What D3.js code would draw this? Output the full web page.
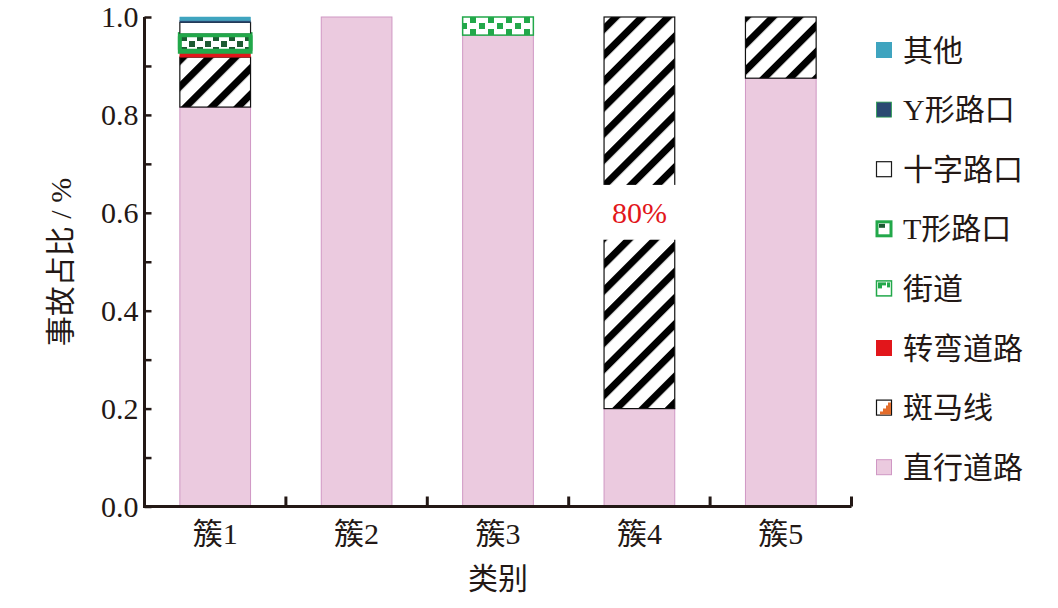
<!DOCTYPE html>
<html><head><meta charset="utf-8">
<script src="https://cdn.jsdelivr.net/npm/d3@7"></script>
<style>
html,body{margin:0;padding:0;background:#fff;}
text{font-family:"Liberation Serif","Noto Sans CJK SC",serif;fill:#231815;}
</style></head>
<body><svg id="c" width="1058" height="608"></svg>
<script>
const categories = ["簇1","簇2","簇3","簇4","簇5"];
const seriesNames = ["直行道路","斑马线","转弯道路","街道","T形路口","十字路口","Y形路口","其他"];
const s_zhixing  = [0.816, 1.000, 0.963, 0.200, 0.875];
const s_banmaxian= [0.102, 0.000, 0.000, 0.800, 0.125];
const s_zhuanwan = [0.011, 0.000, 0.000, 0.000, 0.000];
const s_jiedao   = [0.000, 0.000, 0.037, 0.000, 0.000];
const s_Txing    = [0.036, 0.000, 0.000, 0.000, 0.000];
const s_shizi    = [0.024, 0.000, 0.000, 0.000, 0.000];
const s_Yxing    = [0.004, 0.000, 0.000, 0.000, 0.000];
const s_qita     = [0.007, 0.000, 0.000, 0.000, 0.000];
const yTicks = [0.0, 0.2, 0.4, 0.6, 0.8, 1.0];
const yMinorTicks = [0.1, 0.3, 0.5, 0.7, 0.9];
const breakCategory = "簇4";
const breakRange = [0.545, 0.657];
const breakLabel = "80%";
const legendOrder = ["其他","Y形路口","十字路口","T形路口","街道","转弯道路","斑马线","直行道路"];
const xTitle = "类别";
const yTitle = "事故占比 / %";

const seriesValues = [s_zhixing,s_banmaxian,s_zhuanwan,s_jiedao,s_Txing,s_shizi,s_Yxing,s_qita];
const rows = categories.map((c,i)=>{const o={cat:c}; seriesNames.forEach((s,j)=>o[s]=seriesValues[j][i]); return o;});

const styles = {
  "直行道路":{fill:"#ebcadf",stroke:"#cf97c4",sw:1},
  "斑马线":{fill:"url(#zebra)",stroke:"#111",sw:1.2},
  "转弯道路":{fill:"#e2161b",stroke:"#e2161b",sw:0.5},
  "街道":{fill:"url(#street)",stroke:"#22a84a",sw:1.5},
  "T形路口":{fill:"url(#tpat)",stroke:"#22a84a",sw:4},
  "十字路口":{fill:"#fff",stroke:"#1a1a1a",sw:1.2},
  "Y形路口":{fill:"#284a72",stroke:"#284a72",sw:0.5},
  "其他":{fill:"#3fa4bf",stroke:"#3fa4bf",sw:0.5}
};

const svg = d3.select("#c");
const defs = svg.append("defs");
// zebra
const pz = defs.append("pattern").attr("id","zebra").attr("patternUnits","userSpaceOnUse")
  .attr("width",18.5).attr("height",18.5).attr("patternTransform","rotate(45)");
pz.append("rect").attr("width",18.5).attr("height",18.5).attr("fill","#fff");
pz.append("rect").attr("width",7).attr("height",18.5).attr("fill","#000");
// street
const ps = defs.append("pattern").attr("id","street").attr("patternUnits","userSpaceOnUse")
  .attr("width",18).attr("height",12).attr("x",2).attr("y",5);
ps.append("rect").attr("width",18).attr("height",12).attr("fill","#fff");
ps.append("rect").attr("x",0).attr("y",0).attr("width",6).attr("height",6).attr("fill","#22a84a");
ps.append("rect").attr("x",9).attr("y",6).attr("width",6).attr("height",6).attr("fill","#22a84a");
// T pattern
const pt = defs.append("pattern").attr("id","tpat").attr("patternUnits","userSpaceOnUse")
  .attr("width",16).attr("height",12).attr("x",181).attr("y",35);
pt.append("rect").attr("width",16).attr("height",12).attr("fill","#fff");
pt.append("rect").attr("x",0).attr("y",0).attr("width",6).attr("height",6).attr("fill","#1c5a32");
pt.append("rect").attr("x",8).attr("y",6).attr("width",6).attr("height",6).attr("fill","#1c5a32");

const x = d3.scaleBand().domain(categories).range([144.5,851.5]).paddingInner(0.5).paddingOuter(0.25);
const y = d3.scaleLinear().domain([0,1]).range([506.5,17]);

const stack = d3.stack().keys(seriesNames)(rows);
const g = svg.append("g");
stack.forEach(layer=>{
  const st = styles[layer.key];
  g.selectAll(null).data(layer.filter(d=>d[1]-d[0]>0)).join("rect")
    .attr("x",d=>x(d.data.cat)).attr("width",x.bandwidth())
    .attr("y",d=>y(d[1])).attr("height",d=>y(d[0])-y(d[1]))
    .attr("fill",st.fill).attr("stroke",st.stroke).attr("stroke-width",st.sw);
});
// re-draw T band on top so its thick border shows
const tLayer = stack.find(l=>l.key==="T形路口");
g.selectAll(null).data(tLayer.filter(d=>d[1]-d[0]>0)).join("rect")
  .attr("x",d=>x(d.data.cat)).attr("width",x.bandwidth())
  .attr("y",d=>y(d[1])+1).attr("height",d=>y(d[0])-y(d[1])-2)
  .attr("fill","url(#tpat)").attr("stroke","#22a84a").attr("stroke-width",4).attr("rx",1.5);

// break
g.append("rect").attr("x",x(breakCategory)-3).attr("width",x.bandwidth()+6)
  .attr("y",y(breakRange[1])).attr("height",y(breakRange[0])-y(breakRange[1])).attr("fill","#fff");
g.append("text").attr("x",x(breakCategory)+x.bandwidth()/2).attr("y",y((breakRange[0]+breakRange[1])/2))
  .attr("dy","0.35em").attr("text-anchor","middle").style("font-size","30px").style("fill","#e2161b").text(breakLabel);

// axes
const ink="#231815";
const yAx = svg.append("g").attr("transform","translate(144.5,0)")
  .call(d3.axisLeft(y).tickValues(yTicks).tickFormat(d3.format(".1f")).tickSize(-7).tickPadding(6));
const yMin = svg.append("g").attr("transform","translate(144.5,0)")
  .call(d3.axisLeft(y).tickValues(yMinorTicks).tickFormat("").tickSize(-7));
yMin.select(".domain").remove();
[yAx,yMin].forEach(a=>{a.selectAll("line").attr("stroke",ink).attr("stroke-width",2.5);
  a.select(".domain").attr("stroke",ink).attr("stroke-width",3);});
yAx.selectAll("text").style("font-size","30px").attr("fill",ink).attr("font-family",null);
yAx.select(".domain").attr("d",`M0,${y(1)}V${y(0)}`);

const xAx = svg.append("g").attr("transform","translate(0,506.5)")
  .call(d3.axisBottom(x).tickSize(0).tickPadding(16));
xAx.select(".domain").attr("d",`M143,0H${x.range()[1]}`).attr("stroke",ink).attr("stroke-width",3);
xAx.selectAll("text").style("font-size","30px").attr("fill",ink).attr("font-family",null);
// x ticks at category boundaries (inward)
const bounds = categories.map(c=>x(c)+x.bandwidth()/2+x.step()/2);
xAx.selectAll(".bt").data(bounds).join("line").attr("class","bt")
  .attr("x1",d=>d).attr("x2",d=>d).attr("y1",0).attr("y2",-10).attr("stroke",ink).attr("stroke-width",3);

svg.append("text").attr("x",(x.range()[0]+x.range()[1])/2).attr("y",578).attr("dy","0.35em")
  .attr("text-anchor","middle").style("font-size","30px").text(xTitle);
svg.append("text").attr("transform","translate(60,262) rotate(-90)").attr("dy","0.35em")
  .attr("text-anchor","middle").style("font-size","30px").text(yTitle);

// legend
const lg = svg.append("g");
legendOrder.forEach((name,i)=>{
  const cy = 50 + i*59.6;
  const gg = lg.append("g").attr("transform",`translate(876,${cy-8})`);
  if(name==="其他") gg.append("rect").attr("width",16).attr("height",16).attr("fill","#3fa4bf");
  else if(name==="Y形路口") gg.append("rect").attr("x",0.5).attr("y",0.5).attr("width",15).attr("height",15).attr("fill","#2a4a72").attr("stroke","#2aa050").attr("stroke-width",0.8);
  else if(name==="十字路口") gg.append("rect").attr("x",0.5).attr("y",0.5).attr("width",15).attr("height",15).attr("fill","#fff").attr("stroke","#1a1a1a").attr("stroke-width",1.2);
  else if(name==="T形路口"){gg.append("rect").attr("x",1).attr("y",1).attr("width",14).attr("height",14).attr("fill","#fff").attr("stroke","#22a84a").attr("stroke-width",3);
    gg.append("rect").attr("x",3).attr("y",3).attr("width",6).attr("height",4).attr("fill","#1c5a32");}
  else if(name==="街道"){gg.append("rect").attr("x",0.5).attr("y",0.5).attr("width",15).attr("height",15).attr("fill","#fff").attr("stroke","#22a84a").attr("stroke-width",1.5);
    gg.append("rect").attr("x",2).attr("y",2).attr("width",4).attr("height",6).attr("fill","#22a84a");
    gg.append("rect").attr("x",6).attr("y",2).attr("width",4).attr("height",3).attr("fill","#22a84a");
    gg.append("rect").attr("x",11).attr("y",2).attr("width",3).attr("height",5).attr("fill","#22a84a");}
  else if(name==="转弯道路") gg.append("rect").attr("width",16).attr("height",16).attr("fill","#e2161b");
  else if(name==="斑马线"){gg.append("rect").attr("x",0.5).attr("y",0.5).attr("width",15).attr("height",15).attr("fill","#fff").attr("stroke","#111").attr("stroke-width",1.2);
    gg.append("path").attr("d","M4,15V12H7V9H10V6H12V3H15V15Z").attr("fill","#e36c2a");}
  else gg.append("rect").attr("x",0.5).attr("y",0.5).attr("width",15).attr("height",15).attr("fill","#ebcadf").attr("stroke","#cf97c4").attr("stroke-width",1);
  lg.append("text").attr("x",903).attr("y",cy).attr("dy","0.35em").style("font-size","30px").text(name);
});
</script></body></html>
